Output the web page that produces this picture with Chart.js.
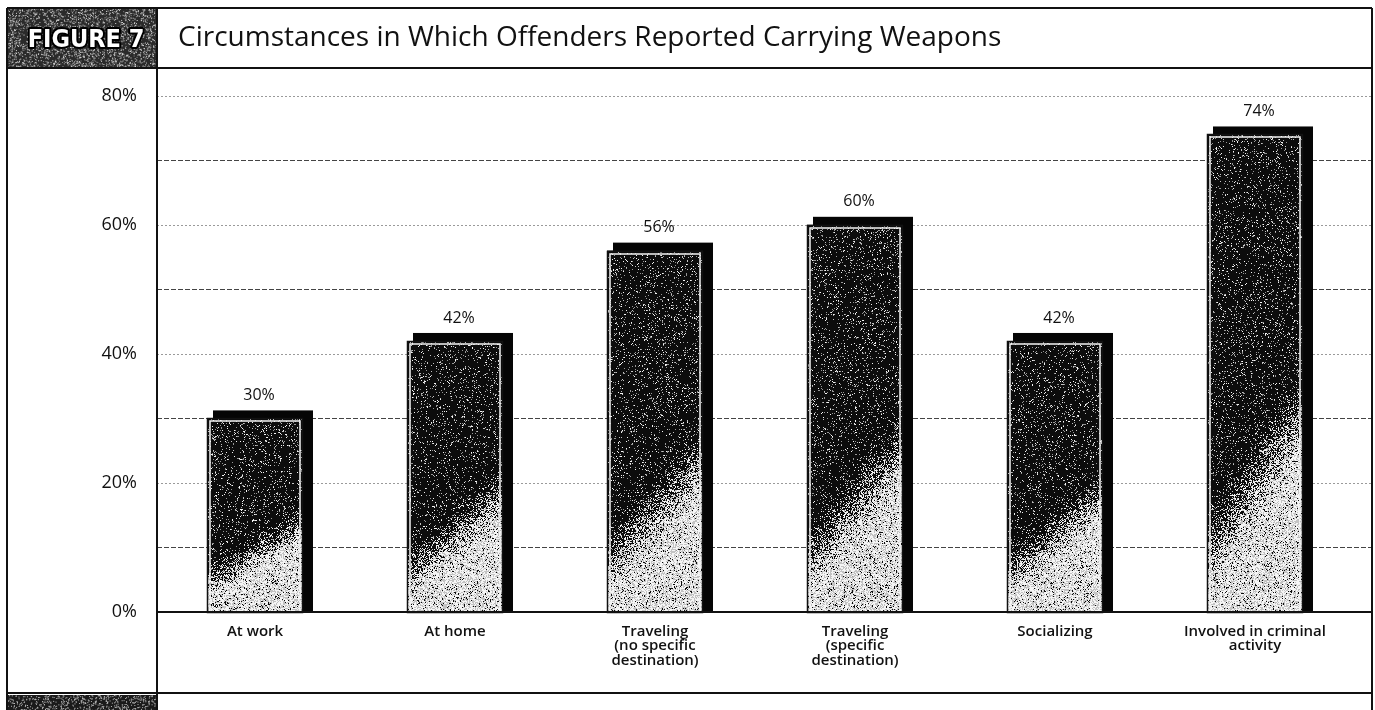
<!DOCTYPE html>
<html>
<head>
<meta charset="utf-8">
<title>Circumstances in Which Offenders Reported Carrying Weapons</title>
<script src="https://cdn.jsdelivr.net/npm/chart.js@4/dist/chart.umd.min.js"></script>
<style>
  html, body { margin: 0; padding: 0; background: #fff; }
  #wrap { position: relative; width: 1375px; height: 710px; }
</style>
</head>
<body>
<div id="wrap"><canvas id="myChart" width="1375" height="710"></canvas></div>
<script>
// categories, values (percent of offenders) and y ticks
var categories = [
  "At work",
  "At home",
  ["Traveling", "(no specific", "destination)"],
  ["Traveling", "(specific", "destination)"],
  "Socializing",
  ["Involved in criminal", "activity"]
];
var percentCarrying = [30, 42, 56, 60, 42, 74];
var yTickValues = [0, 10, 20, 30, 40, 50, 60, 70, 80];
var yTickLabels = ["0%", "", "20%", "", "40%", "", "60%", "", "80%"];

var titleText = "Circumstances in Which Offenders Reported Carrying Weapons";
var figureText = "FIGURE 7";

// small seeded generator so the stipple texture is the same every load
function mulberry32(a) {
  return function () {
    a |= 0; a = a + 0x6D2B79F5 | 0;
    var t = Math.imul(a ^ a >>> 15, 1 | a);
    t = t + Math.imul(t ^ t >>> 7, 61 | t) ^ t;
    return ((t ^ t >>> 14) >>> 0) / 4294967296;
  };
}

function clamp01(v) { return v < 0 ? 0 : (v > 1 ? 1 : v); }

// dark stipple at the top fading to light grain at the bottom right
function makeTexture(w, h, seed) {
  var c = document.createElement("canvas");
  c.width = w; c.height = h;
  var cx = c.getContext("2d");
  var img = cx.createImageData(w, h);
  var rnd = mulberry32(seed);
  var soft = Math.max(40, h * 0.22);
  for (var j = 0; j < h; j++) {
    var above = h - j;
    for (var i = 0; i < w; i++) {
      var u = i / w;
      var edge = h * (0.10 + 0.30 * u) + 10;
      var s = clamp01((above - edge) / soft + 0.5);
      var pDark = 0.10 + 0.84 * s * s * (3 - 2 * s);
      var r = rnd();
      var v;
      if (r < pDark) {
        v = rnd() < 0.05 ? 150 : 12;
      } else {
        v = rnd() < 0.55 ? 245 : 195;
      }
      var k = (j * w + i) * 4;
      img.data[k] = v; img.data[k + 1] = v; img.data[k + 2] = v; img.data[k + 3] = 255;
    }
  }
  cx.putImageData(img, 0, 0);
  return c;
}

var frameLeft = 7, frameRight = 1372, frameTop = 8;
var panelRight = 157, headBottom = 68, labelBottom = 693;

var framePlugin = {
  id: "frame",
  beforeDraw: function (chart) {
    var ctx = chart.ctx;
    ctx.save();
    ctx.fillStyle = "#fff";
    ctx.fillRect(0, 0, chart.width, chart.height);

    // figure badge: stippled grey box with outlined lettering
    var bw = panelRight - frameLeft, bh = headBottom - frameTop;
    var rnd = mulberry32(77);
    ctx.fillStyle = "#2a2a2a";
    ctx.fillRect(frameLeft, frameTop, bw, bh);
    for (var n = 0; n < 2600; n++) {
      var px = frameLeft + rnd() * bw, py = frameTop + rnd() * bh;
      ctx.fillStyle = rnd() < 0.5 ? "#d8d8d8" : "#8a8a8a";
      ctx.fillRect(px, py, 1, 1);
    }
    ctx.font = "bold 25px 'DejaVu Sans Condensed', 'DejaVu Sans'";
    ctx.textAlign = "center";
    ctx.textBaseline = "middle";
    ctx.lineJoin = "round";
    ctx.lineWidth = 4;
    ctx.strokeStyle = "#000";
    ctx.strokeText(figureText, 86, 40, 124);
    ctx.fillStyle = "#fff";
    ctx.fillText(figureText, 86, 40, 124);

    // bottom strip of the badge column
    rnd = mulberry32(91);
    ctx.fillStyle = "#1a1a1a";
    ctx.fillRect(frameLeft, labelBottom + 2, bw, chart.height - labelBottom - 2);
    for (n = 0; n < 500; n++) {
      ctx.fillStyle = "#bbb";
      ctx.fillRect(frameLeft + rnd() * bw, labelBottom + 2 + rnd() * 15, 1, 1);
    }

    // title
    ctx.font = "28px 'Open Sans'";
    ctx.textAlign = "left";
    ctx.fillStyle = "#111";
    ctx.fillText(titleText, 178, 38, 824);
    ctx.restore();
  },
  afterDraw: function (chart) {
    var ctx = chart.ctx;
    var area = chart.chartArea;
    ctx.save();
    ctx.strokeStyle = "#111";
    ctx.lineWidth = 2;
    ctx.beginPath();
    ctx.moveTo(frameLeft, frameTop); ctx.lineTo(frameRight, frameTop);
    ctx.moveTo(frameLeft, headBottom); ctx.lineTo(frameRight, headBottom);
    ctx.moveTo(panelRight, area.bottom); ctx.lineTo(frameRight, area.bottom);
    ctx.moveTo(frameLeft, labelBottom); ctx.lineTo(frameRight, labelBottom);
    ctx.moveTo(frameLeft, frameTop); ctx.lineTo(frameLeft, chart.height);
    ctx.moveTo(panelRight, frameTop); ctx.lineTo(panelRight, chart.height);
    ctx.moveTo(frameRight, frameTop); ctx.lineTo(frameRight, chart.height);
    ctx.stroke();
    ctx.restore();
  }
};

// grid lines run the full width of the plot panel, past the category band
var gridPlugin = {
  id: "fullGrid",
  beforeDatasetsDraw: function (chart) {
    var ctx = chart.ctx, y = chart.scales.y;
    ctx.save();
    yTickValues.forEach(function (v) {
      if (v === 0) return;
      var py = Math.round(y.getPixelForValue(v)) + 0.5;
      ctx.strokeStyle = v % 20 === 0 ? "#9a9a9a" : "#444";
      ctx.lineWidth = 1;
      ctx.setLineDash(v % 20 === 0 ? [2, 2] : [5, 2]);
      ctx.beginPath();
      ctx.moveTo(panelRight, py);
      ctx.lineTo(frameRight, py);
      ctx.stroke();
    });
    ctx.restore();
  }
};

// black offset block behind each bar, stipple on the bar face, value above
var barPlugin = {
  id: "stippleBars",
  beforeDatasetsDraw: function (chart) {
    var ctx = chart.ctx;
    var meta = chart.getDatasetMeta(0);
    ctx.save();
    ctx.fillStyle = "#050505";
    meta.data.forEach(function (bar) {
      var p = bar.getProps(["x", "y", "base", "width"], true);
      var l = p.x - p.width / 2;
      ctx.fillRect(l + 6, p.y - 8, p.width + 4, p.base - p.y + 8);
    });
    ctx.restore();
  },
  afterDatasetsDraw: function (chart) {
    var ctx = chart.ctx;
    var meta = chart.getDatasetMeta(0);
    ctx.save();
    meta.data.forEach(function (bar, i) {
      var p = bar.getProps(["x", "y", "base", "width"], true);
      var l = Math.round(p.x - p.width / 2);
      var t = Math.round(p.y);
      var w = Math.round(p.width);
      var h = Math.round(p.base) - t;
      ctx.drawImage(makeTexture(w, h, 1000 + i * 37), l, t);
      ctx.strokeStyle = "#111";
      ctx.lineWidth = 1.5;
      ctx.strokeRect(l + 0.5, t + 0.5, w - 1, h);
      ctx.strokeStyle = "#f4f4f4";
      ctx.lineWidth = 1.5;
      ctx.beginPath();
      ctx.moveTo(l + 3, Math.round(p.base));
      ctx.lineTo(l + 3, t + 3);
      ctx.lineTo(l + w - 3, t + 3);
      ctx.lineTo(l + w - 3, Math.round(p.base));
      ctx.stroke();

      ctx.font = "16px 'Open Sans'";
      ctx.fillStyle = "#111";
      ctx.textAlign = "center";
      ctx.textBaseline = "bottom";
      ctx.fillText(percentCarrying[i] + "%", p.x + 4, p.y - 15);
    });
    ctx.restore();
  }
};

var ctx = document.getElementById("myChart").getContext("2d");
var myChart = new Chart(ctx, {
  type: "bar",
  data: {
    labels: categories,
    datasets: [{
      label: "Offenders carrying weapons",
      data: percentCarrying,
      backgroundColor: "#111",
      borderWidth: 0,
      barPercentage: 0.96,
      categoryPercentage: 0.5
    }]
  },
  options: {
    responsive: false,
    animation: false,
    devicePixelRatio: 1,
    layout: { padding: { left: 0, right: 20, top: 68, bottom: 17 } },
    plugins: {
      legend: { display: false },
      tooltip: { enabled: false },
      title: { display: false }
    },
    scales: {
      x: {
        grid: { display: false, drawTicks: false },
        border: { display: false },
        afterFit: function (scale) { scale.height = 81; },
        ticks: {
          color: "#111",
          font: { family: "'Open Sans'", size: 15, weight: "600", lineHeight: 0.98 },
          padding: 12,
          maxRotation: 0,
          autoSkip: false
        }
      },
      y: {
        min: 0,
        max: 84.3,
        grid: { display: false, drawTicks: false },
        border: { display: false },
        afterFit: function (scale) { scale.width = 155; },
        afterBuildTicks: function (scale) {
          scale.ticks = yTickValues.map(function (v) { return { value: v }; });
        },
        ticks: {
          color: "#111",
          font: { family: "'Open Sans'", size: 18 },
          padding: 18,
          callback: function (value) {
            var k = yTickValues.indexOf(value);
            return k < 0 ? "" : yTickLabels[k];
          }
        }
      }
    }
  },
  plugins: [framePlugin, gridPlugin, barPlugin]
});
</script>
</body>
</html>
